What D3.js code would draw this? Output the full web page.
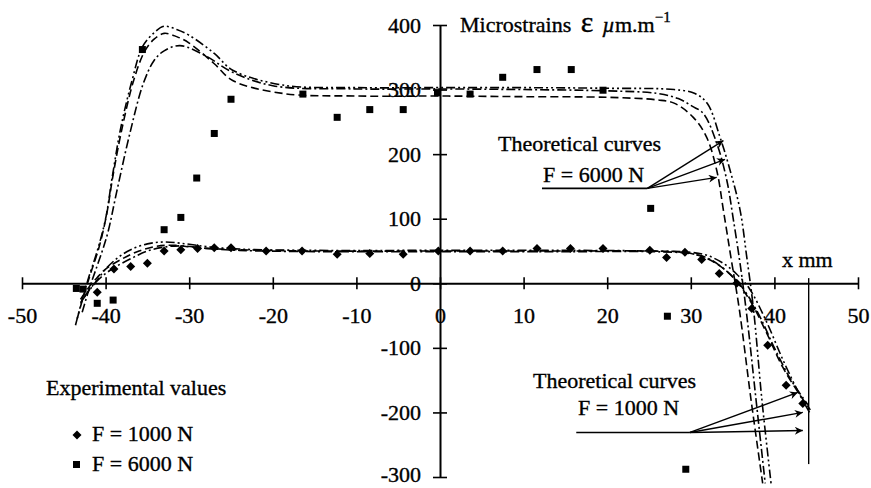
<!DOCTYPE html>
<html>
<head>
<meta charset="utf-8">
<script src="https://cdn.jsdelivr.net/npm/d3@7"></script>
<style>
  body { margin: 0; background: #fff; }
  svg text { font-family: 'Liberation Serif', 'Times New Roman', serif; fill: #000; stroke: #000; stroke-width: 0.35px; }
</style>
</head>
<body>
<div id="chart"></div>
<script>
// ---- data (x in mm, strain in µm/m) ----
const xTicks = [-50, -40, -30, -20, -10, 0, 10, 20, 30, 40, 50];
const yTicks = [-300, -200, -100, 0, 100, 200, 300, 400];

// experimental values
const exp1000 = [[-41, -14], [-39, 22], [-37, 26], [-35, 31], [-33, 50], [-31, 52], [-29, 54], [-27, 55], [-25, 55],
  [-20.8, 50], [-16.5, 50], [-12.3, 45], [-8.4, 46], [-4.4, 45], [-0.2, 50], [3.6, 50], [7.5, 50], [11.6, 54],
  [15.6, 54], [19.5, 54], [25.1, 51], [27.1, 40], [29.3, 48], [31.3, 37], [33.4, 15], [35.5, 0], [37.3, -39],
  [39.2, -96], [41.4, -158], [43.4, -186]];
const exp6000 = [[-43.5, -8], [-42.7, -9], [-41, -31], [-39.1, -26], [-35.6, 362], [-33, 83], [-31, 102], [-29.1, 163],
  [-27, 232], [-25, 285], [-16.4, 293], [-12.3, 257], [-8.4, 269], [-4.4, 269], [-0.3, 295], [3.6, 293], [7.5, 319],
  [11.6, 331], [15.7, 331], [19.5, 299], [25.2, 116], [27.2, -51], [29.4, -288]];

// theoretical curves, F = 6000 N
const theo6000a = [[-43.6, -65], [-42.8, -25], [-42, 10], [-41, 50], [-40, 100], [-39.2, 165], [-38.2, 240],
  [-36.8, 316], [-35.6, 366], [-34.2, 388], [-33, 398], [-31.5, 393], [-30, 384], [-27, 356], [-24.8, 330],
  [-18.8, 307], [-10, 303], [0, 303], [10, 303], [20, 302], [28, 300], [30.5, 294], [32, 278], [33.5, 226],
  [34.7, 175], [35.9, 113], [36.7, 40], [37.5, -40], [38.5, -180], [39.6, -310]];
const theo6000b = [[-43.4, -55], [-42.6, -18], [-41.8, 15], [-40.8, 55], [-39.9, 105], [-39.1, 168], [-38, 242],
  [-36.6, 316], [-35.3, 360], [-34.2, 378], [-33, 387], [-31.5, 382], [-30, 372], [-27, 340], [-24.8, 314],
  [-18.8, 294], [-10, 290], [0, 290], [10, 289], [20, 288], [26, 284], [28, 279], [30.3, 257], [31.9, 226],
  [33.1, 175], [33.9, 113], [34.8, 40], [35.8, -40], [37.2, -180], [38.6, -310]];
const theo6000c = [[-42.8, -45], [-42, -10], [-41.2, 20], [-40.4, 50], [-39.7, 80], [-38.7, 140], [-37.1, 232],
  [-35.5, 309], [-34.2, 345], [-33, 360], [-31.1, 368], [-28, 352], [-25, 328], [-20, 306], [-10, 301], [0, 301],
  [10, 300], [20, 298], [26, 294], [28.5, 286], [30.2, 274], [31.5, 263], [33.1, 217], [34.3, 160], [35.1, 98],
  [35.9, 30], [36.7, -50], [37.8, -180], [38.9, -310]];

// theoretical curves, F = 1000 N
const theo1000a = [[-43, -30], [-42, -12], [-41, 5], [-40, 22], [-38.5, 40], [-37, 52], [-35, 61], [-33, 64],
  [-31, 62], [-28, 57], [-24, 53], [-15, 51], [0, 51], [15, 51], [25, 50], [30, 48], [32, 43], [34, 30],
  [35.5, 14], [37, -8], [39, -58], [41, -118], [43, -172], [44.2, -200]];
const theo1000b = [[-43, -25], [-42, -6], [-41, 9], [-40, 22], [-38, 38], [-36, 50], [-34, 57], [-32, 59],
  [-29, 55], [-24, 52], [-15, 50], [0, 50], [15, 50], [25, 50], [29, 48], [31, 43], [33, 31], [35, 10],
  [37, -25], [39, -75], [41, -130], [43, -172], [44.3, -196]];
const theo1000c = [[-42.5, -20], [-41.5, -3], [-40.5, 10], [-39, 24], [-37, 38], [-35, 50], [-33, 56],
  [-31, 58], [-28, 54], [-24, 51], [-15, 49], [0, 49], [15, 49], [25, 49], [30, 46], [32, 39], [34, 22],
  [36, -4], [38, -45], [40, -100], [42, -150], [44, -188]];

// annotation arrows: [start, end] in data units
const arrows6000 = [[[24.8, 147], [33.9, 221]], [[24.8, 147], [34.1, 192]], [[24.8, 147], [33.1, 164]]];
const arrows1000 = [[[29.9, -231], [42.8, -169]], [[29.9, -231], [43.4, -200]], [[29.9, -231], [43.4, -228]]];

// ---- drawing ----
const width = 871, height = 488;

const svg = d3.select('#chart')
  .append('svg')
  .attr('width', width)
  .attr('height', height);

const x = d3.scaleLinear().domain([-50, 50]).range([22, 858]);
const y = d3.scaleLinear().domain([-300, 400]).range([477, 25]);

const defs = svg.append('defs');
defs.append('marker')
  .attr('id', 'head')
  .attr('viewBox', '0 0 10 10')
  .attr('refX', 10).attr('refY', 5)
  .attr('markerWidth', 11).attr('markerHeight', 8)
  .attr('markerUnits', 'userSpaceOnUse')
  .attr('orient', 'auto')
  .append('path')
  .attr('d', 'M0,0 L10,5 L0,10 L3,5 Z')
  .attr('fill', '#000');

// x axis
const xAxis = svg.append('g')
  .attr('transform', `translate(0,${y(0)})`)
  .call(d3.axisBottom(x).tickValues(xTicks).tickSize(6).tickSizeOuter(0).tickFormat(d => String(d)));
xAxis.select('.domain').attr('stroke-width', 2);
xAxis.selectAll('.tick line').attr('y1', -6).attr('y2', 6).attr('stroke-width', 1.6);
xAxis.selectAll('.tick text').attr('y', 40).attr('dy', 0);

// y axis
const yAxis = svg.append('g')
  .attr('transform', `translate(${x(0)},0)`)
  .call(d3.axisLeft(y).tickValues(yTicks).tickSize(7).tickSizeOuter(0).tickFormat(d => String(d)));
yAxis.select('.domain').attr('stroke-width', 2);
yAxis.selectAll('.tick line').attr('x1', -7).attr('x2', 7).attr('stroke-width', 1.6);
yAxis.selectAll('.tick text').attr('x', -19)
  .attr('dy', d => d === -300 ? '0.2em' : '0.32em');   // keep the lowest label inside the frame
svg.selectAll('.tick text')
  .attr('font-size', 22)
  .style('font-family', "'Liberation Serif', 'Times New Roman', serif");

// plate edge line
svg.append('line')
  .attr('x1', x(44.1)).attr('x2', x(44.1))
  .attr('y1', y(8)).attr('y2', y(-280))
  .attr('stroke', '#000').attr('stroke-width', 1.4);

// theoretical curves
const line = d3.line().x(d => x(d[0])).y(d => y(d[1])).curve(d3.curveCatmullRom.alpha(0.5));
const curves = [
  { data: theo6000a, dash: '9,3,2,3,2,3' },
  { data: theo6000b, dash: '8,4' },
  { data: theo6000c, dash: '9,3,2,3' },
  { data: theo1000a, dash: '9,3,2,3,2,3' },
  { data: theo1000b, dash: '8,4' },
  { data: theo1000c, dash: '9,3,2,3' }
];
svg.append('g')
  .selectAll('path')
  .data(curves)
  .join('path')
  .attr('d', d => line(d.data))
  .attr('fill', 'none')
  .attr('stroke', '#000')
  .attr('stroke-width', 1.6)
  .attr('stroke-dasharray', d => d.dash);

// experimental points
const diamond = 'M0,-4.5L4.5,0L0,4.5L-4.5,0Z';
svg.append('g')
  .selectAll('path')
  .data(exp1000)
  .join('path')
  .attr('d', diamond)
  .attr('transform', d => `translate(${x(d[0])},${y(d[1])})`)
  .attr('fill', '#000');

svg.append('g')
  .selectAll('rect')
  .data(exp6000)
  .join('rect')
  .attr('x', d => x(d[0]) - 3.5)
  .attr('y', d => y(d[1]) - 3.5)
  .attr('width', 7).attr('height', 7)
  .attr('fill', '#000');

// arrows
svg.append('g')
  .selectAll('line')
  .data(arrows6000.concat(arrows1000))
  .join('line')
  .attr('x1', d => x(d[0][0])).attr('y1', d => y(d[0][1]))
  .attr('x2', d => x(d[1][0])).attr('y2', d => y(d[1][1]))
  .attr('stroke', '#000').attr('stroke-width', 1.4)
  .attr('marker-end', 'url(#head)');

// underlines below the force labels
svg.append('line')
  .attr('x1', x(12.2)).attr('x2', x(24.8)).attr('y1', y(147)).attr('y2', y(147))
  .attr('stroke', '#000').attr('stroke-width', 1.6);
svg.append('line')
  .attr('x1', x(16.3)).attr('x2', x(29.9)).attr('y1', y(-231)).attr('y2', y(-231))
  .attr('stroke', '#000').attr('stroke-width', 1.6);

// texts
const fs = 22;
function label(px, py, str, size) {
  return svg.append('text').attr('x', px).attr('y', py).attr('font-size', size || fs).text(str);
}

const title = svg.append('text').attr('x', 460).attr('y', 32).attr('font-size', fs);
title.append('tspan').text('Microstrains ');
title.append('tspan').attr('font-size', 30).attr('dx', 4).text('ε');
title.append('tspan').attr('dx', 9).attr('font-style', 'italic').text('µ');
title.append('tspan').text('m.m');
title.append('tspan').attr('font-size', 15).attr('dy', -10).text('−1');

label(782, 267, 'x mm');
label(498, 151, 'Theoretical curves');
label(543, 182, 'F = 6000 N');
label(533, 388, 'Theoretical curves');
label(578, 415, 'F = 1000 N');

label(46, 395, 'Experimental values');
label(92, 441, 'F = 1000 N');
label(92, 471, 'F = 6000 N');

svg.append('path')
  .attr('d', diamond)
  .attr('transform', 'translate(77,435)')
  .attr('fill', '#000');
svg.append('rect')
  .attr('x', 73).attr('y', 461).attr('width', 7).attr('height', 7)
  .attr('fill', '#000');
</script>
</body>
</html>
